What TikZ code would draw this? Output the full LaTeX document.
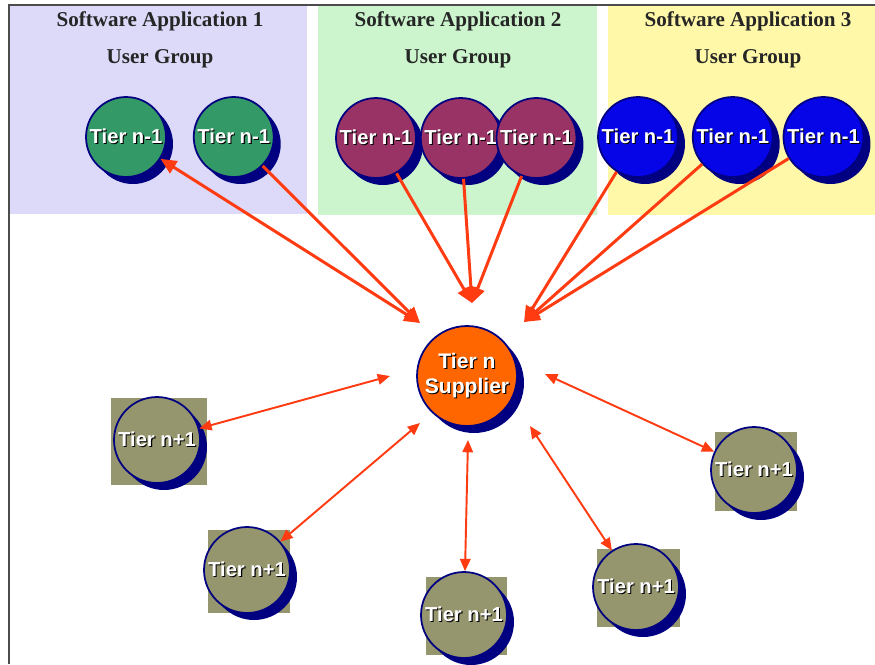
\documentclass[tikz,border=0pt]{standalone}
\usepackage{fontspec}
\setmainfont{Liberation Serif}
\setsansfont{Liberation Sans}
\usetikzlibrary{positioning, shadows, arrows.meta, calc}

\definecolor{lav}{HTML}{DCDAF8}
\definecolor{mint}{HTML}{CCF5CE}
\definecolor{lemon}{HTML}{FFF8A8}
\definecolor{tgreen}{HTML}{339966}
\definecolor{tmaroon}{HTML}{993366}
\definecolor{tblue}{HTML}{0505E8}
\definecolor{tnavy}{HTML}{000080}
\definecolor{torange}{HTML}{FF6600}
\definecolor{tolive}{HTML}{95956E}
\definecolor{tarrow}{HTML}{FF3B12}

\newcommand{\tiertext}[1]{\makebox[0pt]{\rlap{\kern0.6pt\raisebox{-0.6pt}{\color{black}#1}}\color{white}#1}}

\begin{document}
\begin{tikzpicture}[x=0.02cm, y=-0.02cm]
 \tikzset{node style up/.style={circle, draw=tnavy, line width=1pt,
        minimum size=1.6cm, inner sep=0pt,
        font=\sffamily\bfseries\fontsize{11.5}{14}\selectfont,
        drop shadow={shadow xshift=0.14cm, shadow yshift=-0.14cm,
                     fill=tnavy, opacity=1}}}
 \tikzset{node style down/.style={node style up, fill=tolive, minimum size=1.72cm,
        font=\sffamily\bfseries\fontsize{11.5}{14}\selectfont,
        drop shadow={shadow xshift=0.1cm, shadow yshift=-0.1cm,
                     fill=tnavy, opacity=1}}}
 \tikzset{title/.style={font=\rmfamily\bfseries\fontsize{12}{14}\selectfont,
        text=black!85, inner sep=0pt}}
 \tikzset{link/.style={tarrow, line width=1.7pt, -{Triangle[length=9pt,width=8pt]}}}
 \tikzset{link2/.style={tarrow, line width=1.1pt,
        {Triangle[length=7pt,width=6pt]}-{Triangle[length=7pt,width=6pt]}}}
 \useasboundingbox (0,0) rectangle (875,664);

 % user group panels
 \fill[lav]   (10,6)  rectangle (307,214);
 \fill[mint]  (318,6) rectangle (597,215);
 \fill[lemon] (608,6) rectangle (875,215);
 \draw[black!70, line width=0.8pt] (9,664) -- (9,5) -- (875,5);

 \node[title] (t1) at (160,21) {Software Application 1};
 \node[title] (u1) at (160,59) {User Group};
 \node[title] (t2) at (458,21) {Software Application 2};
 \node[title] (u2) at (458,59) {User Group};
 \node[title] (t3) at (748,21) {Software Application 3};
 \node[title] (u3) at (748,59) {User Group};

 % tier n-1
 \node[node style up, fill=tgreen] (g1) at (126,137) {\tiertext{Tier n-1}};
 \node[node style up, fill=tgreen, right=0.52cm of g1] (g2) {\tiertext{Tier n-1}};

 \node[node style up, fill=tmaroon] (m1) at (376,138) {\tiertext{Tier n-1}};
 \node[node style up, fill=tmaroon, right=0.06cm of m1] (m2) {\tiertext{Tier n-1}};
 \node[node style up, fill=tmaroon, right=-0.12cm of m2] (m3) {\tiertext{Tier n-1}};

 \node[node style up, fill=tblue] (c1) at (638,137) {\tiertext{Tier n-1}};
 \node[node style up, fill=tblue, right=0.26cm of c1] (c2) {\tiertext{Tier n-1}};
 \node[node style up, fill=tblue, right=0.18cm of c2] (c3) {\tiertext{Tier n-1}};

 % tier n
 \node[node style up, fill=torange, minimum size=2cm, align=center,
       font=\sffamily\bfseries\fontsize{12}{14.5}\selectfont] (sup) at (467,376)
       {\tiertext{Tier n}\\\tiertext{Supplier}};

 % tier n+1
 \foreach \nm/\px/\py/\w/\h in {b1/159/441/96/87, b2/249/571/82/83,
        b3/466/616/81/78, b4/638/588/83/78, b5/756/471/82/79}{
   \fill[tolive] (\px-\w/2,\py-\h/2) rectangle (\px+\w/2,\py+\h/2);
   \node[node style down] (\nm) at (\px-2,\py-1) {\tiertext{Tier n+1}};
 }

 % arrow ends near the supplier
 \coordinate (inL) at (420,323);
 \coordinate (inT) at (472,303);
 \coordinate (inR) at (524,322);
 \coordinate (s1) at (390,376);
 \coordinate (s2) at (420,423);
 \coordinate (s3) at (468,440);
 \coordinate (s4) at (530,426);
 \coordinate (s5) at (545,374);

 \draw[link, {Triangle[length=9pt,width=8pt]}-{Triangle[length=9pt,width=8pt]}] (g1) -- (inL);
 \draw[link] (g2) -- (inL);
 \foreach \n in {m1,m2,m3} \draw[link] (\n) -- (inT);
 \foreach \n in {c1,c2,c3} \draw[link] (\n) -- (inR);

 \draw[link2] (s1) -- (b1);
 \draw[link2] (s2) -- (b2);
 \draw[link2] (s3) -- (b3);
 \draw[link2] (s4) -- (b4);
 \draw[link2] (s5) -- (b5);
\end{tikzpicture}
\end{document}
